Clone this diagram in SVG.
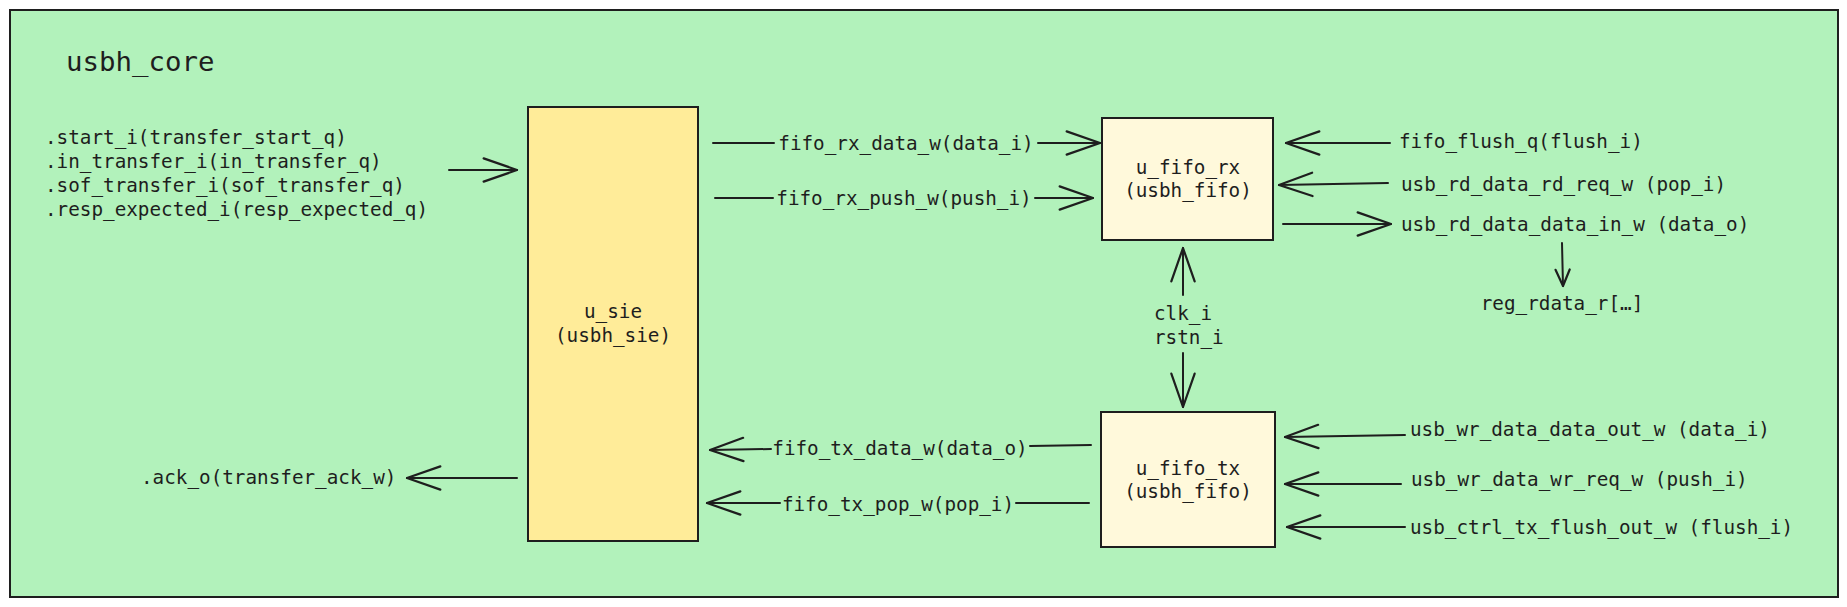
<svg xmlns="http://www.w3.org/2000/svg" width="1847" height="607" viewBox="0 0 1847 607">
<defs>
<marker id="ah" markerUnits="userSpaceOnUse" markerWidth="40" markerHeight="30" viewBox="-32 -13 36 26" refX="0" refY="0" orient="auto">
<path d="M-30,-10.5 L0,0 L-30,10.5" fill="none" stroke="#1e1e1e" stroke-width="2" stroke-linecap="round" stroke-linejoin="round"/>
</marker>
<marker id="ahs" markerUnits="userSpaceOnUse" markerWidth="24" markerHeight="20" viewBox="-18 -9 22 18" refX="0" refY="0" orient="auto">
<path d="M-15,-6.5 L0,0 L-15,6.5" fill="none" stroke="#1e1e1e" stroke-width="2" stroke-linecap="round" stroke-linejoin="round"/>
</marker>
</defs>
<style>
text{font-family:"DejaVu Sans Mono","Liberation Mono",monospace;font-size:19.3px;fill:#1e1e1e}
.title{font-size:27.4px}
.c{text-anchor:middle}
.box{stroke:#1e1e1e;stroke-width:2}
.conn path{fill:none;stroke:#1e1e1e;stroke-width:2;stroke-linecap:round;marker-end:url(#ah)}
.conn path.s{marker-end:url(#ahs)}
</style>
<g id="usbh_core">
<rect x="10" y="10" width="1828" height="587" fill="#b2f2bb" class="box"/>
<text class="title" x="66" y="71">usbh_core</text>
</g>
<g id="inputs">
<text x="45" y="144">.start_i(transfer_start_q)</text>
<text x="45" y="168">.in_transfer_i(in_transfer_q)</text>
<text x="45" y="192">.sof_transfer_i(sof_transfer_q)</text>
<text x="45" y="216">.resp_expected_i(resp_expected_q)</text>
</g>
<g id="ack_out">
<text x="141" y="484">.ack_o(transfer_ack_w)</text>
</g>
<g id="u_sie">
<rect x="528" y="107" width="170" height="434" fill="#ffec99" class="box"/>
<text class="c" x="613" y="318">u_sie</text>
<text class="c" x="613" y="342">(usbh_sie)</text>
</g>
<g id="u_fifo_rx">
<rect x="1102" y="118" width="171" height="122" fill="#fff9db" class="box"/>
<text class="c" x="1188" y="174">u_fifo_rx</text>
<text class="c" x="1188" y="197">(usbh_fifo)</text>
</g>
<g id="u_fifo_tx">
<rect x="1101" y="412" width="174" height="135" fill="#fff9db" class="box"/>
<text class="c" x="1188" y="475">u_fifo_tx</text>
<text class="c" x="1188" y="498">(usbh_fifo)</text>
</g>
<g id="clk_rst">
<text x="1154" y="320">clk_i</text>
<text x="1154" y="344">rstn_i</text>
</g>
<g id="reg_rdata">
<text class="c" x="1562" y="310">reg_rdata_r[…]</text>
</g>
<g id="connectors" class="conn">
<path d="M449,170 L517,170"/>
<path d="M713,143 L774,143 M1038,143 L1100,143"/>
<text class="c" x="906" y="150">fifo_rx_data_w(data_i)</text>
<path d="M715,198 L773,198 M1035,198 L1093,198"/>
<text class="c" x="904" y="205">fifo_rx_push_w(push_i)</text>
<path d="M1390,143 L1286,143"/>
<text x="1399" y="148">fifo_flush_q(flush_i)</text>
<path d="M1388,183 L1279,185"/>
<text x="1401" y="191">usb_rd_data_rd_req_w (pop_i)</text>
<path d="M1283,224 L1391,224"/>
<text x="1401" y="231">usb_rd_data_data_in_w (data_o)</text>
<path class="s" d="M1562,243 L1563,286"/>
<path d="M1183,295 L1183,248"/>
<path d="M1183,353 L1183,407"/>
<path d="M1091,445 L1030,446 M771,449 L710,450"/>
<text class="c" x="900" y="455">fifo_tx_data_w(data_o)</text>
<path d="M1089,503 L1016,503 M780,503 L707,503"/>
<text class="c" x="898" y="511">fifo_tx_pop_w(pop_i)</text>
<path d="M1405,435 L1285,437"/>
<text x="1410" y="436">usb_wr_data_data_out_w (data_i)</text>
<path d="M1401,484 L1285,484"/>
<text x="1411" y="486">usb_wr_data_wr_req_w (push_i)</text>
<path d="M1405,527 L1287,527"/>
<text x="1410" y="534">usb_ctrl_tx_flush_out_w (flush_i)</text>
<path d="M517,478 L407,478"/>
</g>
</svg>
